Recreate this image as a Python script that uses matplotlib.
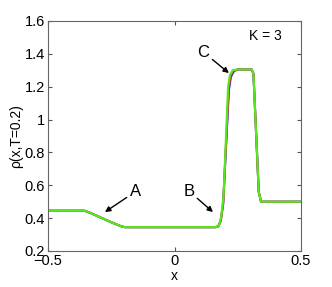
import matplotlib
matplotlib.use('Agg')
import matplotlib.pyplot as plt

plt.rcParams['font.family'] = ['Liberation Sans', 'DejaVu Sans']

# density profiles (three nearly identical runs)
x_blue = [-0.5, -0.355, -0.33, -0.25, -0.21, -0.195, 0.16, 0.172, 0.182, 0.192, 0.215, 0.223, 0.235, 0.25, 0.305, 0.312, 0.333, 0.342, 0.5]
y_blue = [0.445, 0.445, 0.43, 0.375, 0.35, 0.345, 0.345, 0.35, 0.38, 0.48, 1.18, 1.26, 1.295, 1.305, 1.305, 1.28, 0.56, 0.5, 0.5]
x_red = [-0.5, -0.355, -0.33, -0.25, -0.21, -0.195, 0.162, 0.174, 0.184, 0.193, 0.214, 0.222, 0.233, 0.25, 0.305, 0.312, 0.333, 0.342, 0.5]
y_red = [0.445, 0.445, 0.43, 0.375, 0.35, 0.345, 0.345, 0.35, 0.39, 0.5, 1.19, 1.265, 1.297, 1.305, 1.305, 1.28, 0.56, 0.5, 0.5]
x_green = [-0.5, -0.355, -0.33, -0.25, -0.21, -0.195, 0.165, 0.176, 0.185, 0.194, 0.212, 0.219, 0.23, 0.25, 0.305, 0.312, 0.333, 0.342, 0.5]
y_green = [0.445, 0.445, 0.43, 0.375, 0.35, 0.345, 0.345, 0.355, 0.41, 0.54, 1.2, 1.27, 1.3, 1.305, 1.305, 1.28, 0.56, 0.5, 0.5]

xticks = [-0.5, 0, 0.5]
xlabels = ['\u22120.5', '0', '0.5']
yticks = [0.2, 0.4, 0.6, 0.8, 1.0, 1.2, 1.4, 1.6]
ylabels = ['0.2', '0.4', '0.6', '0.8', '1', '1.2', '1.4', '1.6']

fig = plt.figure(figsize=(3.32, 2.87), dpi=100)
ax = fig.add_axes([48/332, 1 - 251/287, 253/332, 230/287])

ax.plot(x_blue, y_blue, color='#2020ff', lw=1.5)
ax.plot(x_red, y_red, color='#e0203a', lw=1.5)
ax.plot(x_green, y_green, color='#55e81a', lw=1.6)

ax.set_xlim(-0.5, 0.5)
ax.set_ylim(0.2, 1.6)
ax.set_xticks(xticks)
ax.set_xticklabels(xlabels)
ax.set_yticks(yticks)
ax.set_yticklabels(ylabels)
ax.tick_params(direction='in', top=True, right=True, labelsize=10.5, length=3, color='#555555', pad=2)
for s in ax.spines.values():
    s.set_color('#666666')
    s.set_linewidth(0.8)

ax.set_xlabel('x', fontsize=10, labelpad=1)
ax.set_ylabel('\u03c1(x,T=0.2)', fontsize=10, labelpad=1)

arr = dict(arrowstyle='-|>', color='black', lw=1.0, mutation_scale=8, shrinkA=0, shrinkB=0)
ax.annotate('A', xy=(-0.275, 0.437), xytext=(-0.156, 0.56), fontsize=12, ha='center', va='center', arrowprops=arr)
ax.annotate('B', xy=(0.152, 0.437), xytext=(0.057, 0.565), fontsize=12, ha='center', va='center', arrowprops=arr)
ax.annotate('C', xy=(0.215, 1.283), xytext=(0.115, 1.41), fontsize=12, ha='center', va='center', arrowprops=arr)
ax.text(0.36, 1.51, 'K = 3', fontsize=10, ha='center', va='center')

fig.savefig('out.png', dpi=100)
